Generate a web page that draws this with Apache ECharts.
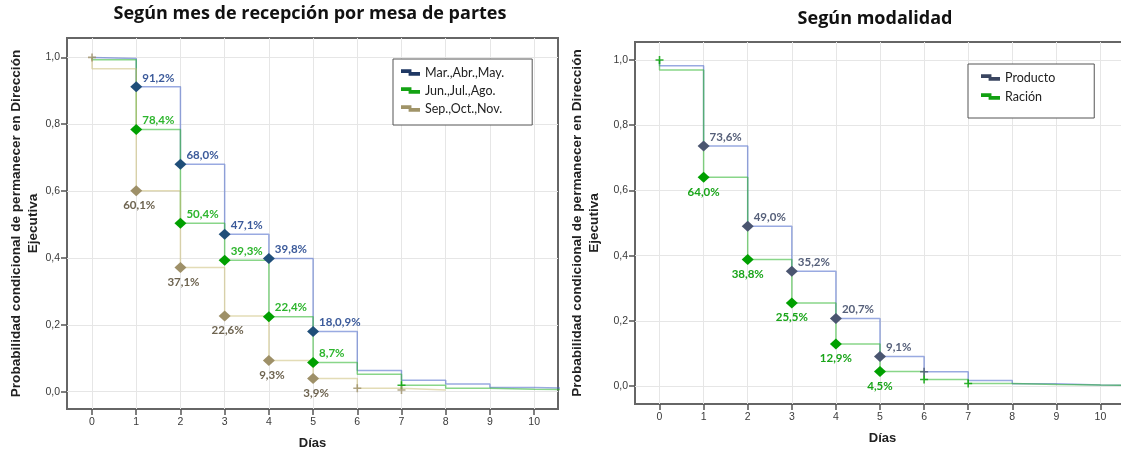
<!DOCTYPE html>
<html>
<head>
<meta charset="utf-8">
<script src="https://cdn.jsdelivr.net/npm/echarts@6/dist/echarts.min.js"></script>
<style>
  html, body { margin: 0; padding: 0; background: #ffffff; }
  #chart { width: 1121px; height: 453px; }
</style>
</head>
<body>
<div id="chart"></div>
<script>
// Días transcurridos y marcas de los ejes
const days = [0, 1, 2, 3, 4, 5, 6, 7, 8, 9, 10];
const xTicks = [0, 1, 2, 3, 4, 5, 6, 7, 8, 9, 10];
const yTicks = [0, 0.2, 0.4, 0.6, 0.8, 1.0];

// Probabilidad condicional vigente desde cada día, por mes de recepción
const marAbrMay = [0.997, 0.912, 0.680, 0.471, 0.398, 0.180, 0.063, 0.034, 0.023, 0.012, 0.010];
const junJulAgo = [0.993, 0.784, 0.504, 0.393, 0.224, 0.087, 0.052, 0.019, 0.010, 0.007, 0.006];
const sepOctNov = [0.966, 0.601, 0.371, 0.226, 0.093, 0.039, 0.010, 0.005];
const lastDayMes = [11, 11, 8];

// Etiquetas de los días 1 a 5
const lblMarAbrMay = ['91,2%', '68,0%', '47,1%', '39,8%', '18,0,9%'];
const lblJunJulAgo = ['78,4%', '50,4%', '39,3%', '22,4%', '8,7%'];
const lblSepOctNov = ['60,1%', '37,1%', '22,6%', '9,3%', '3,9%'];

// Casos censurados (día, probabilidad)
const censMarAbrMay = [];
const censJunJulAgo = [[7, 0.019]];
const censSepOctNov = [[0, 1.0], [6, 0.010], [7, 0.005]];

// Probabilidad condicional vigente desde cada día, por modalidad
const producto = [0.982, 0.736, 0.490, 0.352, 0.207, 0.091, 0.044, 0.017, 0.007, 0.003, 0.002];
const racion = [0.969, 0.640, 0.388, 0.255, 0.129, 0.045, 0.020, 0.008, 0.005, 0.003, 0.001];
const lastDayMod = [12, 12];

const lblProducto = ['73,6%', '49,0%', '35,2%', '20,7%', '9,1%'];
const lblRacion = ['64,0%', '38,8%', '25,5%', '12,9%', '4,5%'];

const censProducto = [[6, 0.044]];
const censRacion = [[0, 1.0], [6, 0.020], [7, 0.008]];

const namesMes = ['Mar.,Abr.,May.', 'Jun.,Jul.,Ago.', 'Sep.,Oct.,Nov.'];
const namesMod = ['Producto', 'Ración'];

// Curva escalonada: parte de 1 en el día 0 y se prolonga hasta el último día observado
function stepPoints(vals, lastDay) {
  const pts = [[days[0], 1]];
  vals.forEach((v, i) => pts.push([days[i], v]));
  pts.push([lastDay, vals[vals.length - 1]]);
  return pts;
}
function markedPoints(vals) {
  return days.slice(1, 6).map((d, i) => [d, vals[i + 1]]);
}

const plusPath = 'path://M4,0h2v10h-2z M0,4h10v2h-10z';
const stepIcon = 'path://M0,0H11V3H20V7H8V4H0Z';
const fmt = v => v.toFixed(1).replace('.', ',');

function stepSeries(name, vals, lastDay, lineColor, gi) {
  return {
    type: 'line', name, step: 'end', symbol: 'none', xAxisIndex: gi, yAxisIndex: gi,
    data: stepPoints(vals, lastDay), lineStyle: { color: lineColor, width: 1.5 },
    itemStyle: { color: lineColor }, z: 2, silent: true
  };
}
function markerSeries(name, vals, labels, color, lblColor, above, gi) {
  const label = above
    ? { show: true, position: 'right', distance: 0, offset: [0, -9] }
    : { show: true, position: 'bottom', distance: 3, offset: [gi === 0 ? 3 : 0, 0] };
  return {
    type: 'scatter', name, symbol: 'diamond', symbolSize: [12, 11], xAxisIndex: gi, yAxisIndex: gi,
    data: markedPoints(vals), itemStyle: { color, opacity: 1 }, z: 5, silent: true,
    label: Object.assign(label, {
      formatter: p => labels[p.dataIndex], color: lblColor,
      fontFamily: 'Lato', fontWeight: 'bold', fontSize: 11.5
    })
  };
}
function censorSeries(name, pts, color, gi) {
  return {
    type: 'scatter', name, symbol: plusPath, symbolSize: 8, xAxisIndex: gi, yAxisIndex: gi,
    data: pts, itemStyle: { color }, z: 4, silent: true
  };
}

const tickFont = { fontFamily: 'Liberation Sans', fontSize: 10.5, color: '#3a3a3a' };
const nameFont = { fontFamily: 'Liberation Sans', fontWeight: 'bold', color: '#222' };
const yName = 'Probabilidad condicional de permanecer en Dirección\nEjecutiva';

function xAxis(gi, min, max) {
  return {
    type: 'value', gridIndex: gi, min, max,
    name: 'Días', nameLocation: 'middle', nameGap: 28,
    nameTextStyle: Object.assign({ fontSize: 13 }, nameFont),
    axisLine: { show: false, onZero: false },
    axisTick: { show: true, customValues: xTicks, length: 6, lineStyle: { color: '#555', width: 1.5 } },
    axisLabel: Object.assign({ customValues: xTicks, margin: 8 }, tickFont),
    splitLine: { show: true, lineStyle: { color: '#e6e6e6', width: 1 } }
  };
}
function yAxis(gi, min, max, gap) {
  return {
    type: 'value', gridIndex: gi, min, max,
    name: yName, nameLocation: 'middle', nameGap: gap, nameRotate: 90,
    nameTextStyle: Object.assign({ fontSize: 13.6, lineHeight: 17, align: 'center' }, nameFont),
    axisLine: { show: false, onZero: false },
    axisTick: { show: true, customValues: yTicks, length: 6, lineStyle: { color: '#555', width: 1.5 } },
    axisLabel: Object.assign({ customValues: yTicks, margin: 7, formatter: fmt }, tickFont),
    splitLine: { show: true, lineStyle: { color: '#e6e6e6', width: 1 } }
  };
}

const colMes = {
  line: ['rgba(70,100,200,0.55)', 'rgba(40,180,40,0.55)', 'rgba(200,185,110,0.5)'],
  mark: ['#1f4e79', '#00a000', '#9e9068'],
  label: ['#3b5a9a', '#2db52d', '#6e6450'],
  legend: ['#1f3864', '#13a313', '#a09468']
};
const colMod = {
  line: ['rgba(70,100,200,0.55)', 'rgba(40,180,40,0.55)'],
  mark: ['#4a5570', '#00a000'],
  label: ['#56607a', '#19a519'],
  legend: ['#3a4560', '#12a012']
};

const mesVals = [marAbrMay, junJulAgo, sepOctNov];
const mesLbls = [lblMarAbrMay, lblJunJulAgo, lblSepOctNov];
const mesCens = [censMarAbrMay, censJunJulAgo, censSepOctNov];
const modVals = [producto, racion];
const modLbls = [lblProducto, lblRacion];
const modCens = [censProducto, censRacion];

const series = [];
mesVals.forEach((v, i) => series.push(stepSeries(namesMes[i], v, lastDayMes[i], colMes.line[i], 0)));
modVals.forEach((v, i) => series.push(stepSeries(namesMod[i], v, lastDayMod[i], colMod.line[i], 1)));
mesVals.forEach((v, i) => series.push(markerSeries(namesMes[i], v, mesLbls[i], colMes.mark[i], colMes.label[i], i < 2, 0)));
modVals.forEach((v, i) => series.push(markerSeries(namesMod[i], v, modLbls[i], colMod.mark[i], colMod.label[i], i === 0, 1)));
mesCens.forEach((c, i) => { if (c.length) series.push(censorSeries(namesMes[i], c, colMes.mark[i], 0)); });
modCens.forEach((c, i) => { if (c.length) series.push(censorSeries(namesMod[i], c, colMod.mark[i], 1)); });

const legendBase = {
  orient: 'vertical', icon: stepIcon, itemWidth: 19, itemHeight: 7,
  backgroundColor: '#fff', borderColor: '#555', borderWidth: 1, borderRadius: 0,
  selectedMode: false
};

const titleFont = { fontFamily: 'Open Sans', fontWeight: 'bold', fontSize: 18, color: '#111' };

const chart = echarts.init(document.getElementById('chart'), null, { renderer: 'canvas' });
chart.setOption({
  animation: false,
  backgroundColor: '#ffffff',
  title: [
    { text: 'Según mes de recepción por mesa de partes', left: 310, top: 5, textAlign: 'center', padding: 0, textStyle: titleFont },
    { text: 'Según modalidad', left: 875, top: 10, textAlign: 'center', padding: 0, textStyle: titleFont }
  ],
  legend: [
    Object.assign({}, legendBase, {
      left: 393, top: 59, padding: [7, 28, 10, 8], itemGap: 5,
      data: namesMes.map((n, i) => ({ name: n, itemStyle: { color: colMes.legend[i], borderWidth: 0 } })),
      textStyle: { fontFamily: 'Lato', fontSize: 12.5, color: '#222' }
    }),
    Object.assign({}, legendBase, {
      left: 968, top: 64, padding: [7, 39, 15, 13], itemGap: 6,
      data: namesMod.map((n, i) => ({ name: n, itemStyle: { color: colMod.legend[i], borderWidth: 0 } })),
      textStyle: { fontFamily: 'Lato', fontSize: 12.5, color: '#222' }
    })
  ],
  grid: [
    { left: 67, top: 38, width: 491, height: 371, show: true, borderColor: '#666', borderWidth: 2,
      backgroundColor: 'transparent', outerBoundsMode: 'none' },
    { left: 635, top: 42, width: 495, height: 362, show: true, borderColor: '#666', borderWidth: 2,
      backgroundColor: 'transparent', outerBoundsMode: 'none' }
  ],
  xAxis: [xAxis(0, -0.566, 10.54), xAxis(1, -0.556, 10.67)],
  yAxis: [yAxis(0, -0.052, 1.058, 24), yAxis(1, -0.055, 1.055, 32)],
  series
});
</script>
</body>
</html>
